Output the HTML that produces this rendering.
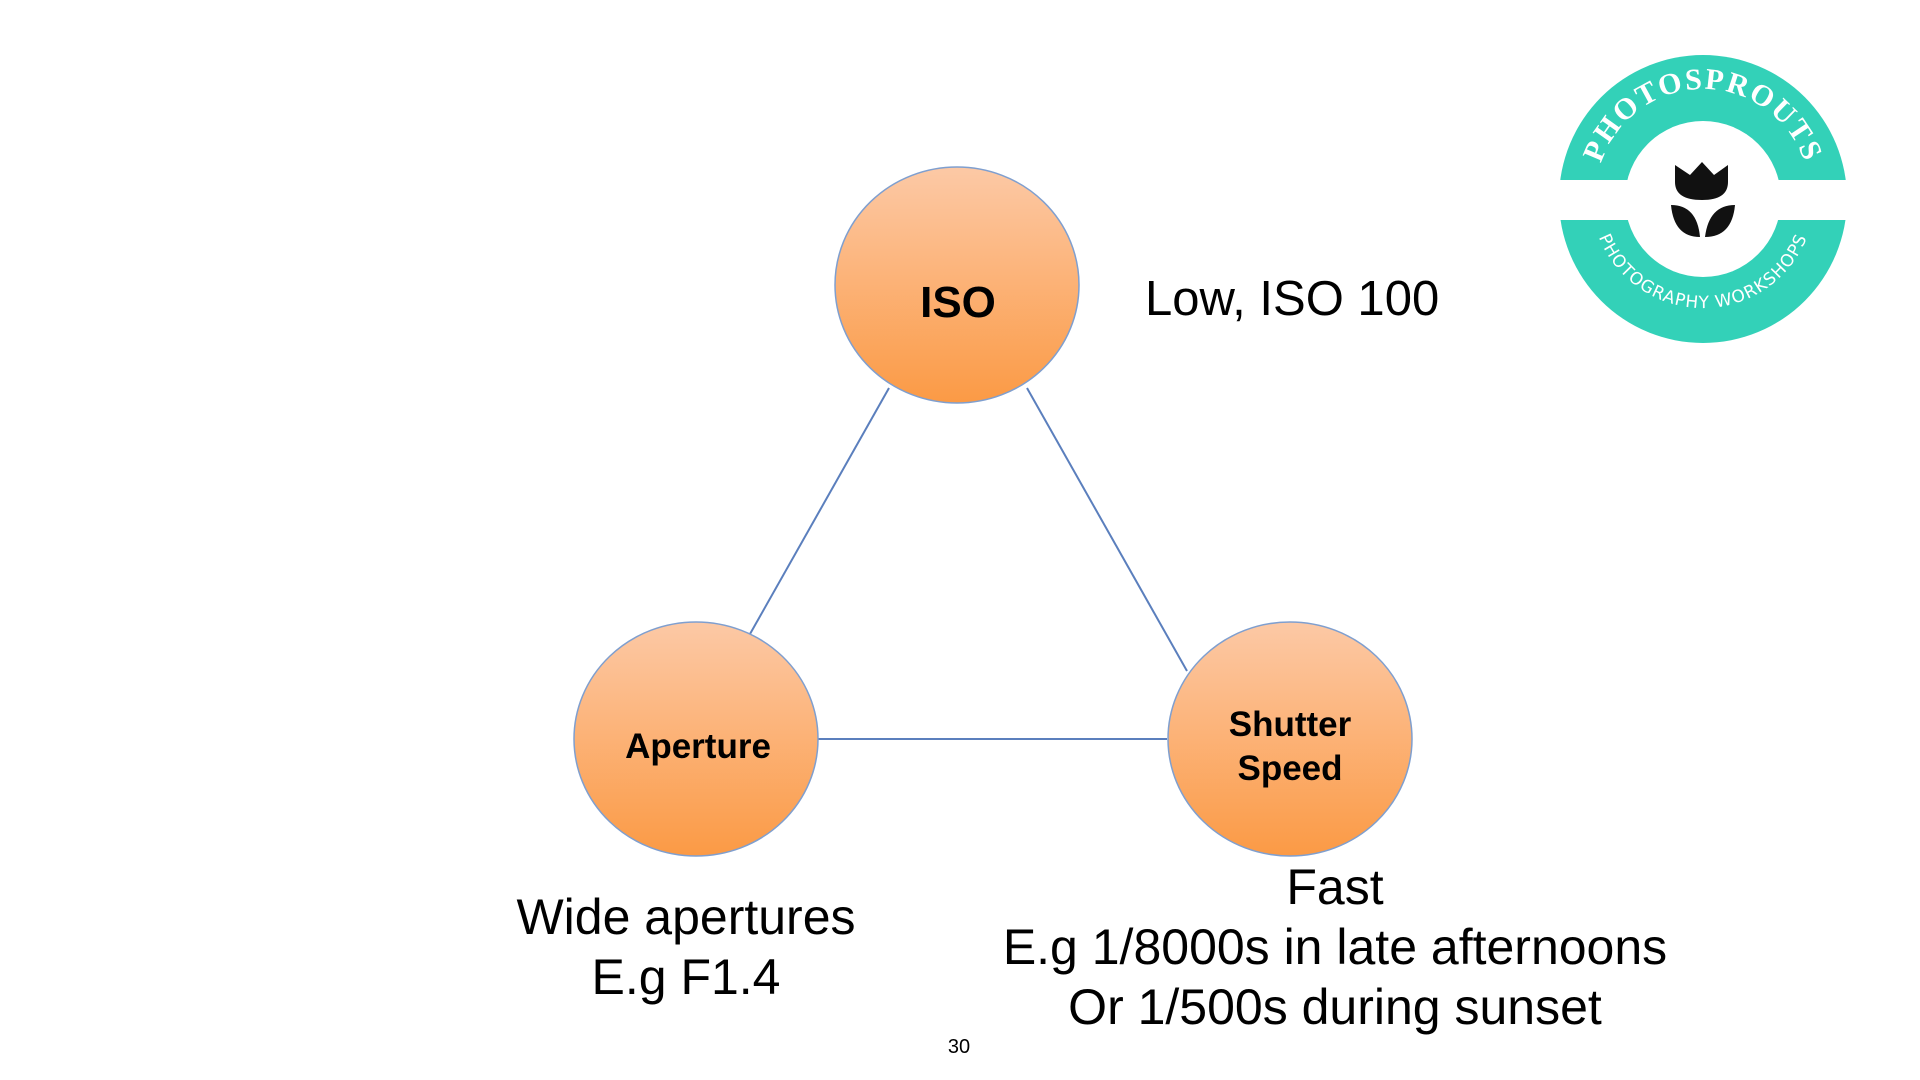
<!DOCTYPE html>
<html><head><meta charset="utf-8"><style>
html,body{margin:0;padding:0;background:#fff;}
svg{display:block}
</style></head><body>
<svg width="1920" height="1080" viewBox="0 0 1920 1080" xmlns="http://www.w3.org/2000/svg">
<defs>
<linearGradient id="g" x1="0" y1="0" x2="0" y2="1">
<stop offset="0" stop-color="#fcc9a6"/>
<stop offset="1" stop-color="#fb9a45"/>
</linearGradient>
<path id="arcTop" d="M1600,225 A107,107 0 1 1 1806,225"/>
<path id="arcBot" d="M1598,235 A112,112 0 0 0 1808,235"/>
</defs>
<g stroke="#5b7fbd" stroke-width="2" fill="none">
<line x1="889" y1="388" x2="750" y2="634"/>
<line x1="1027" y1="388" x2="1187" y2="671"/>
<line x1="817" y1="739" x2="1167" y2="739"/>
</g>
<g stroke="#7f9fcf" stroke-width="1.5" fill="url(#g)">
<ellipse cx="957" cy="285" rx="122" ry="118"/>
<ellipse cx="696" cy="739" rx="122" ry="117"/>
<ellipse cx="1290" cy="739" rx="122" ry="117"/>
</g>
<g font-family="'Liberation Sans', sans-serif" font-weight="bold" fill="#000" text-anchor="middle">
<text x="958" y="317" font-size="44">ISO</text>
<text x="698" y="758" font-size="35">Aperture</text>
<text x="1290" y="736" font-size="35">Shutter</text>
<text x="1290" y="780" font-size="35">Speed</text>
</g>
<g font-family="'Liberation Sans', sans-serif" fill="#000" font-size="50">
<text x="1145" y="315" font-size="49">Low, ISO 100</text>
<g text-anchor="middle">
<text x="686" y="934">Wide apertures</text>
<text x="686" y="994">E.g F1.4</text>
<text x="1335" y="904">Fast</text>
<text x="1335" y="964">E.g 1/8000s in late afternoons</text>
<text x="1335" y="1024">Or 1/500s during sunset</text>
<text x="959" y="1053" font-size="20">30</text>
</g>
</g>
<!-- logo -->
<circle cx="1703" cy="199" r="144" fill="#33d1b8"/>
<circle cx="1703" cy="199" r="78" fill="#fff"/>
<rect x="1555" y="180" width="300" height="40" fill="#fff"/>
<text font-family="'Liberation Serif', serif" font-weight="bold" font-size="30" fill="#fff" letter-spacing="2"><textPath href="#arcTop" startOffset="50%" text-anchor="middle">PHOTOSPROUTS</textPath></text>
<text font-family="'DejaVu Sans', sans-serif" font-size="17" fill="#fff" letter-spacing="1"><textPath href="#arcBot" startOffset="50%" text-anchor="middle">PHOTOGRAPHY WORKSHOPS</textPath></text>
<g fill="#111">
<path d="M1675,165 L1690,175 L1702,162 L1714,175 L1728,165 L1728,182 Q1728,200 1702,200 Q1675,200 1675,182 Z"/>
<path d="M1671,205 Q1697,205 1700,237 Q1674,237 1671,205 Z"/>
<path d="M1735,205 Q1709,205 1705,237 Q1732,237 1735,205 Z"/>
</g>
</svg>
</body></html>
